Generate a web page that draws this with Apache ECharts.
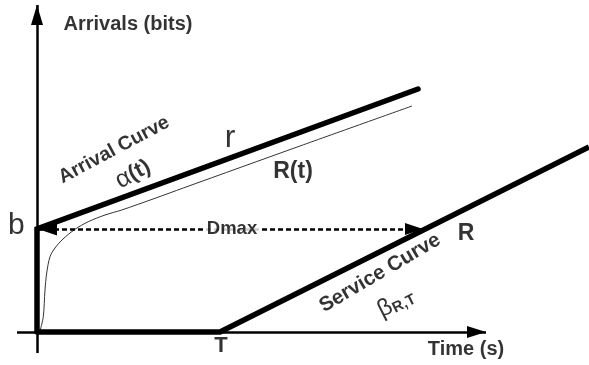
<!DOCTYPE html>
<html>
<head>
<meta charset="utf-8">
<script src="https://cdn.jsdelivr.net/npm/echarts@6/dist/echarts.min.js"></script>
<style>
html,body{margin:0;padding:0;background:#fff;}
#chart{width:589px;height:365px;}
</style>
</head>
<body>
<div id="chart"></div>
<script>
// ---- data (time units, bit units) ----
const arrivalTime = [0, 0, 19.05];
const arrivalBits = [0, 5.15, 12.15];
const serviceTime = [0, 9.15, 27.6];
const serviceBits = [0, 0, 9.25];
const outputTime = [0.15, 0.315, 0.4, 0.485, 0.65, 0.9, 1.3, 1.9, 2.565, 3.4, 4.235, 5.9, 7.315, 13.15, 18.75];
const outputBits = [0.05, 0.765, 2.1, 2.95, 3.765, 4.2, 4.65, 5.135, 5.515, 5.85, 6.1, 6.685, 7.2, 9.3, 11.3];
const burst = 5.15;
const dmaxSpan = [0.05, 19.3];
const xAxisSpan = [-1, 22.45];
const yAxisSpan = [-1.05, 16.35];

// annotation texts and their anchors
const labelTexts = ['Arrivals (bits)', 'Time (s)', 'b', 'T', 'R', 'r', 'R(t)', 'Dmax', 'Arrival Curve', 'α(t)', 'Service Curve', 'β R,T'];
const labelX = [4.55, 21.45, -1.03, 9.2, 21.45, 9.65, 12.8, 9.75, 3.85, 4.8, 17.15, 17.95];
const labelY = [15.4, -0.85, 5.3, -0.7, 4.9, 9.7, 8.0, 5.15, 9.1, 7.9, 2.95, 1.45];

const zip = (a, b) => a.map((v, i) => [v, b[i]]);
const FONT = "'Liberation Sans', Arial, sans-serif";

const labelStyles = {
  'Arrivals (bits)': {fontSize: 20, fontWeight: 'bold'},
  'Time (s)': {fontSize: 20, fontWeight: 'bold'},
  'b': {fontSize: 30, fontWeight: 'normal'},
  'T': {fontSize: 22, fontWeight: 'bold'},
  'R': {fontSize: 23, fontWeight: 'bold'},
  'r': {fontSize: 32, fontWeight: 'normal'},
  'R(t)': {fontSize: 23, fontWeight: 'bold'},
  'Dmax': {fontSize: 18.5, fontWeight: 'bold', backgroundColor: '#fff', padding: [1, 3]},
  'Arrival Curve': {fontSize: 19.5, fontWeight: 'bold', rotate: 28},
  'α(t)': {rotate: 28, formatter: '{a|α}{b|(t)}', rich: {a: {fontSize: 25, fontFamily: FONT, color: '#000'}, b: {fontSize: 22, fontWeight: 'bold', fontFamily: FONT, color: '#000'}}},
  'Service Curve': {fontSize: 20.5, fontWeight: 'bold', rotate: 30.5},
  'β R,T': {rotate: 27, formatter: '{a|β}{b|R,T}', rich: {a: {fontSize: 24, fontFamily: FONT, color: '#000'}, b: {fontSize: 15, fontWeight: 'bold', fontFamily: FONT, color: '#000', verticalAlign: 'bottom'}}}
};

const labelData = labelTexts.map((t, i) => ({
  value: [labelX[i], labelY[i]],
  name: t,
  label: Object.assign({show: true, position: 'inside', color: '#000', fontFamily: FONT, formatter: t}, labelStyles[t])
}));

const arrowEnd = (coord, size) => ({coord: coord, symbol: 'triangle', symbolSize: size, symbolOffset: [0, '50%']});

const chart = echarts.init(document.getElementById('chart'), null, {renderer: 'canvas'});
chart.setOption({
  animation: false,
  backgroundColor: '#fff',
  grid: {left: 0, right: 0, top: 0, bottom: 0, containLabel: false},
  xAxis: {type: 'value', min: -1.85, max: 27.6, show: false},
  yAxis: {type: 'value', min: -1.65, max: 16.6, show: false},
  series: [
    {
      name: 'axes', type: 'line', data: [], silent: true,
      markLine: {
        silent: true, animation: false,
        label: {show: false},
        lineStyle: {color: '#000', width: 2.5, type: 'solid'},
        symbol: ['none', 'triangle'],
        data: [
          [{coord: [xAxisSpan[0], 0], symbol: 'none'}, arrowEnd([xAxisSpan[1], 0], [12, 19])],
          [{coord: [0, yAxisSpan[0]], symbol: 'none'}, arrowEnd([0, yAxisSpan[1]], [12, 20])]
        ]
      }
    },
    {
      name: 'Output R(t)', type: 'line', data: zip(outputTime, outputBits),
      showSymbol: false, symbol: 'none', smooth: 0.3,
      lineStyle: {color: '#333', width: 1}
    },
    {
      name: 'Service Curve', type: 'line', data: zip(serviceTime, serviceBits),
      showSymbol: false, symbol: 'none',
      lineStyle: {color: '#000', width: 5.5, cap: 'butt', join: 'miter'}
    },
    {
      name: 'Arrival Curve', type: 'line', data: zip(arrivalTime, arrivalBits),
      showSymbol: false, symbol: 'none',
      lineStyle: {color: '#000', width: 5.5, cap: 'round', join: 'miter'}
    },
    {
      name: 'Dmax', type: 'line', data: [], silent: true,
      markLine: {
        silent: true, animation: false,
        label: {show: false},
        lineStyle: {color: '#000', width: 2.5, type: [5, 3]},
        data: [
          [arrowEnd([dmaxSpan[0], burst], [13, 19]), arrowEnd([dmaxSpan[1], burst], [12, 18])]
        ]
      }
    },
    {
      name: 'labels', type: 'scatter', data: labelData, symbolSize: 0, silent: true, z: 10
    }
  ]
});
</script>
</body>
</html>
